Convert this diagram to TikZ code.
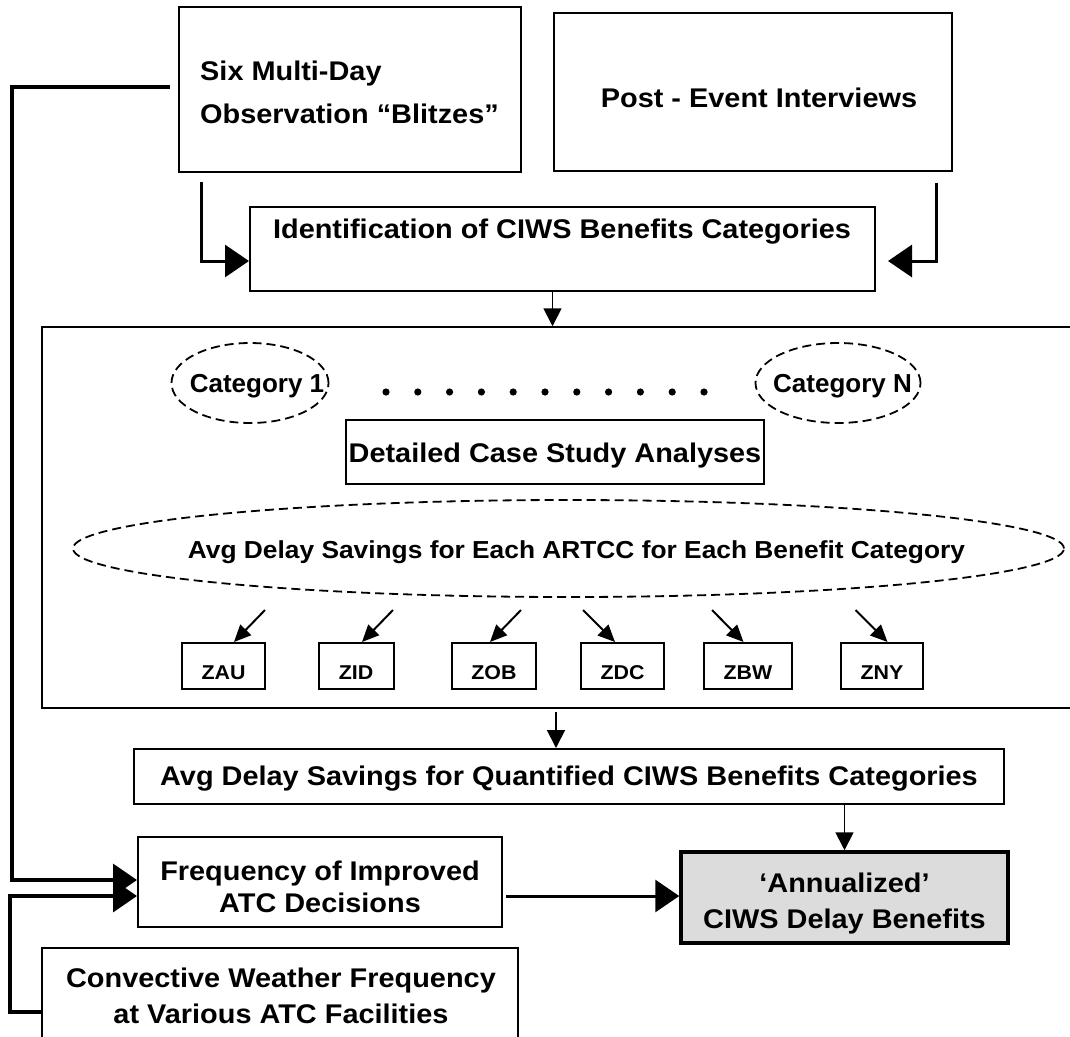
\documentclass[tikz,border=0pt]{standalone}
\usepackage{fontspec}
\setmainfont{Liberation Sans}[FakeStretch=1.07]
\newfontfamily\catfont{Liberation Sans}[FakeStretch=1.0]
\usetikzlibrary{arrows.meta,shapes.geometric}
\begin{document}
\begin{tikzpicture}[x=1pt,y=-1pt,
  box/.style={draw, rectangle, line width=2pt, inner sep=0pt},
  dashell/.style={draw, ellipse, line width=1.8pt, dash pattern=on 9pt off 5pt, inner sep=0pt},
  txt/.style={anchor=base, inner sep=0pt, font=\bfseries\fontsize{27}{32}\selectfont},
  cattxt/.style={anchor=base, inner sep=0pt, font=\catfont\bfseries\fontsize{26}{30}\selectfont},
  avgtxt/.style={anchor=base, inner sep=0pt, font=\bfseries\fontsize{24.6}{28}\selectfont},
  ztxt/.style={anchor=base, inner sep=0pt, font=\bfseries\fontsize{20}{24}\selectfont},
  zbox/.style={box, minimum height=46pt},
  bigarrow/.style={line width=3.5pt, -{Triangle[length=24pt,width=32pt]}},
  smallarrow/.style={line width=1.8pt, -{Triangle[length=18pt,width=18pt]}},
  zarrow/.style={line width=2pt, -{Triangle[length=17pt,width=15pt]}},
]
\useasboundingbox (0,0) rectangle (1070,1036);

% boxes
\node[box, minimum width=342pt, minimum height=165pt] (blitz) at (350,89.5) {};
\node[box, minimum width=398pt, minimum height=158pt] (post) at (753,92) {};
\node[box, minimum width=625pt, minimum height=84pt] (ident) at (562.5,249) {};
\node[draw, rectangle, line width=1.5pt, inner sep=0pt, minimum width=1048pt, minimum height=381pt] (cont) at (566,517.5) {};
\node[dashell, minimum width=157pt, minimum height=80pt] (cat1) at (250,383) {};
\node[dashell, minimum width=165pt, minimum height=80pt] (catN) at (838,383) {};
\node[box, minimum width=418pt, minimum height=64pt] (detail) at (555,452) {};
\node[dashell, minimum width=991pt, minimum height=97pt] (avgE) at (568.5,548.5) {};
\node[zbox, minimum width=83pt] (zau) at (223.5,666) {};
\node[zbox, minimum width=75pt] (zid) at (356,666) {};
\node[zbox, minimum width=84pt] (zob) at (494,666) {};
\node[zbox, minimum width=83pt] (zdc) at (622.5,666) {};
\node[zbox, minimum width=88pt] (zbw) at (748,666) {};
\node[zbox, minimum width=82pt] (zny) at (882,666) {};
\node[box, minimum width=870pt, minimum height=55pt] (quant) at (569,776.5) {};
\node[box, minimum width=364pt, minimum height=90pt] (freq) at (320,882) {};
\node[box, line width=3.5pt, fill={rgb,255:red,220;green,220;blue,220}, minimum width=327pt, minimum height=91pt] (annual) at (844.5,897.5) {};
\node[box, minimum width=476pt, minimum height=102pt] (conv) at (280,999) {};

% texts
\node[txt, anchor=base west] (blitzA) at (200,80) {Six Multi-Day};
\node[txt, anchor=base west] (blitzB) at (200,123) {Observation “Blitzes”};
\node[txt] (postT) at (759,107) {Post - Event Interviews};
\node[txt] (identT) at (562,238) {Identification of CIWS Benefits Categories};
\node[cattxt] (cat1T) at (257,392) {Category 1};
\node[cattxt] (catNT) at (842.5,392) {Category N};
\node[txt] (detailT) at (555,462) {Detailed Case Study Analyses};
\node[avgtxt] (avgT) at (576.5,558) {Avg Delay Savings for Each ARTCC for Each Benefit Category};
\node[ztxt] (zauT) at (223.5,679) {ZAU};
\node[ztxt] (zidT) at (356,679) {ZID};
\node[ztxt] (zobT) at (494,679) {ZOB};
\node[ztxt] (zdcT) at (622.5,679) {ZDC};
\node[ztxt] (zbwT) at (748,679) {ZBW};
\node[ztxt] (znyT) at (882,679) {ZNY};
\node[txt] (quantT) at (569,785) {Avg Delay Savings for Quantified CIWS Benefits Categories};
\node[txt] (freqA) at (320,880) {Frequency of Improved};
\node[txt] (freqB) at (320,912) {ATC Decisions};
\node[txt] (annA) at (844.5,892) {‘Annualized’};
\node[txt] (annB) at (844.5,928) {CIWS Delay Benefits};
\node[txt] (convA) at (281,987) {Convective Weather Frequency};
\node[txt] (convB) at (281,1023) {at Various ATC Facilities};

% dots
\foreach \k in {0,...,10} {
  \fill (386+31.8*\k,392) circle (3.6pt);
}

% connectors
\coordinate (b1) at (201.5,182);
\coordinate (b2) at (201.5,261);
\draw[bigarrow, line width=3pt] (b1) -- (b2) -- (b2 -| ident.west);
\coordinate (p1) at (936,183);
\coordinate (p2) at (936,261);
\coordinate (p3) at (888,261);
\draw[bigarrow, line width=3pt] (p1) -- (p2) -- (p3);

\coordinate (ia) at ([xshift=-10pt]ident.south);
\draw[smallarrow] (ia) -- (ia |- cont.north);
\coordinate (cq) at (556,712);
\draw[smallarrow] (cq) -- (cq |- quant.north);
\draw[smallarrow] (annual.north |- quant.south) -- (annual.north);

\coordinate (fb1) at (170,87);
\coordinate (fbA) at (12,87);
\coordinate (fbB) at (12,880);
\draw[bigarrow] (fb1) -- (fbA) -- (fbB) -- (fbB -| freq.west);
\coordinate (fc1) at ([yshift=-13pt]conv.west);
\coordinate (fcA) at (10,1012);
\coordinate (fcB) at (10,896);
\draw[bigarrow] (fc1) -- (fcA) -- (fcB) -- (fcB -| freq.west);
\coordinate (fq) at ([xshift=3pt,yshift=-14pt]freq.east);
\draw[bigarrow, line width=3pt] (fq) -- (fq -| annual.west);

\draw[zarrow] ([xshift=41.5pt,yshift=32pt]zau.north) -- ([xshift=10.5pt]zau.north);
\draw[zarrow] ([xshift=37pt,yshift=32pt]zid.north) -- ([xshift=6pt]zid.north);
\draw[zarrow] ([xshift=27pt,yshift=32pt]zob.north) -- ([xshift=-4pt]zob.north);
\draw[zarrow] ([xshift=-39.5pt,yshift=32pt]zdc.north) -- ([xshift=-7.5pt]zdc.north);
\draw[zarrow] ([xshift=-36pt,yshift=32pt]zbw.north) -- ([xshift=-4.5pt]zbw.north);
\draw[zarrow] ([xshift=-26.5pt,yshift=32pt]zny.north) -- ([xshift=5.5pt]zny.north);
\end{tikzpicture}
\end{document}
